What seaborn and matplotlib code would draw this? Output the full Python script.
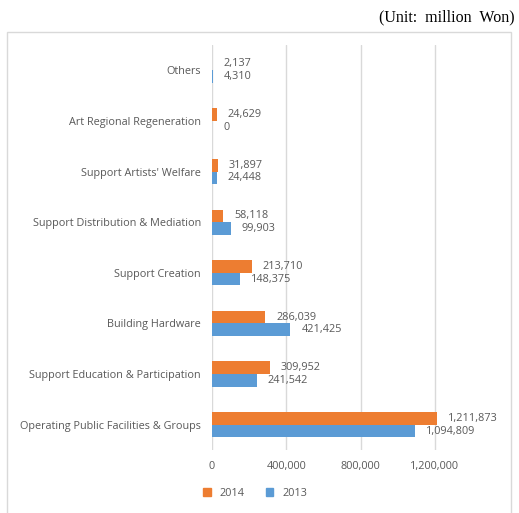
import matplotlib
matplotlib.use("Agg")
import matplotlib.pyplot as plt
import matplotlib.patches as mpatches
import seaborn as sns
import pandas as pd

categories = ["Others", "Art Regional Regeneration", "Support Artists' Welfare",
              "Support Distribution & Mediation", "Support Creation", "Building Hardware",
              "Support Education & Participation", "Operating Public Facilities & Groups"]
values_2014 = [2137, 24629, 31897, 58118, 213710, 286039, 309952, 1211873]
values_2013 = [4310, 0, 24448, 99903, 148375, 421425, 241542, 1094809]
years = ["2014", "2013"]
xticks = [0, 400000, 800000, 1200000]

df = pd.DataFrame({
    "category": categories * 2,
    "value": values_2014 + values_2013,
    "year": [years[0]] * len(categories) + [years[1]] * len(categories),
})

sns.set_theme(style="white")
plt.rcParams["font.family"] = ["Open Sans", "DejaVu Sans"]
txt = "#595959"
colors = {"2014": "#ED7D31", "2013": "#5B9BD5"}
fs = 7.8

fig = plt.figure(figsize=(5.19, 5.13), dpi=100)
# outer chart frame
fig.patches.append(mpatches.Rectangle((7 / 519, -0.01), 504 / 519, 1 - 32 / 513 + 0.01,
                                      transform=fig.transFigure, fill=False,
                                      edgecolor="#D9D9D9", linewidth=1.0))
ax = fig.add_axes([212 / 519, 1 - 450 / 513, 260 / 519, 405 / 513])
sns.barplot(data=df, y="category", x="value", hue="year", hue_order=years,
            order=categories, palette=colors, orient="h", width=0.5,
            ax=ax, legend=False, saturation=1, linewidth=0)

ax.set_xlim(0, 1400000)
ax.set_xticks(xticks)
ax.set_xticklabels([f"{v:,}" for v in xticks], color=txt, fontsize=fs)
ax.tick_params(axis="x", length=0, pad=8)
ax.tick_params(axis="y", length=0, pad=8)
for lbl in ax.get_yticklabels():
    lbl.set_color(txt)
    lbl.set_fontsize(fs)
ax.set_xlabel("")
ax.set_ylabel("")
for s in ax.spines.values():
    s.set_visible(False)
for x in xticks:
    ax.axvline(x, color="#D9D9D9", linewidth=1.0, zorder=0)

for cont in ax.containers:
    ax.bar_label(cont, labels=[f"{v.get_width():,.0f}" for v in cont],
                 padding=8, color=txt, fontsize=fs)

handles = [mpatches.Patch(color=colors[y], label=y) for y in years]
fig.legend(handles=handles, loc="center", bbox_to_anchor=(255 / 519, 1 - 493 / 513),
           ncol=2, frameon=False, handlelength=0.7, handleheight=0.7,
           columnspacing=2.0, handletextpad=0.8, fontsize=fs, labelcolor=txt)

fig.text(515 / 519, 1 - 17 / 513, "(Unit:  million  Won)", ha="right", va="center",
         fontsize=11.5, family="Liberation Serif", color="black")

fig.savefig("out.png", dpi=100)
